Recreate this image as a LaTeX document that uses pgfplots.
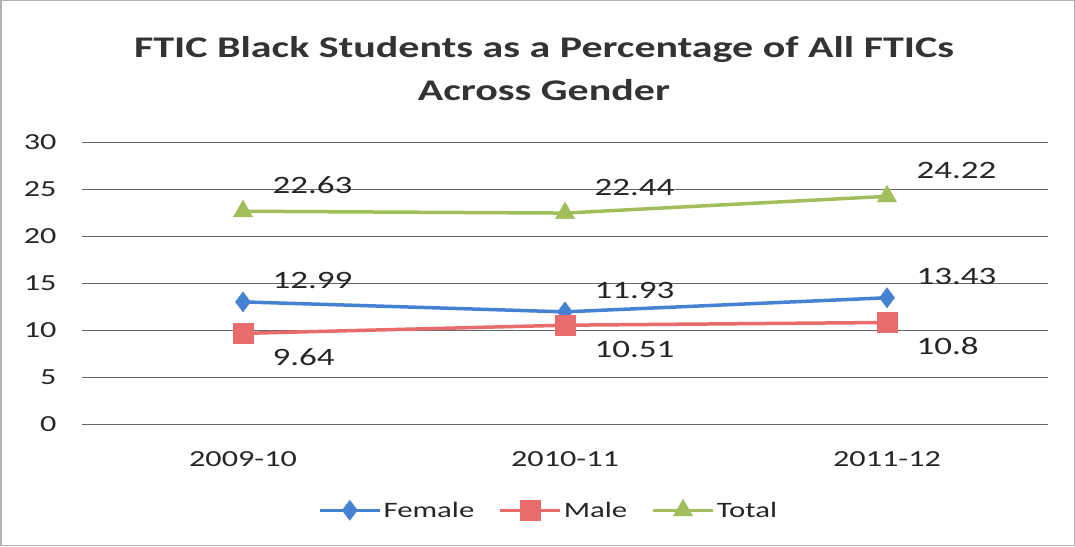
\documentclass[border=0pt]{standalone}
\usepackage{pgfplots}
\pgfplotsset{compat=1.18}
\usepackage{fontspec}
\setmainfont{Carlito}[FakeStretch=1.4]
\definecolor{cF}{RGB}{70,130,210}
\definecolor{cM}{RGB}{232,108,108}
\definecolor{cT}{RGB}{160,190,90}
\begin{document}
\begin{tikzpicture}
\draw[gray!60, line width=1.5pt] (0.75pt,0.75pt) rectangle (1074.25pt,545.25pt);
\node[align=center, font=\fontsize{30}{43}\selectfont\bfseries, text=black!80] at (544pt,477pt) {FTIC Black Students as a Percentage of All FTICs\\Across Gender};
\begin{axis}[at={(82pt,122pt)}, anchor=south west, scale only axis,
  width=966pt, height=282pt,
  xmin=-0.5, xmax=2.5, ymin=0, ymax=30,
  ytick={0,5,...,30}, xtick={0,1,2}, xticklabels={2009-10,2010-11,2011-12},
  axis line style={draw=none}, tick style={draw=none},
  ymajorgrids, grid style={black!60, line width=0.8pt},
  ticklabel style={font=\fontsize{23}{26}\selectfont, text=black!85},
  /pgf/number format/assume math mode=true,
  yticklabel shift=22pt,
  xticklabel shift=24pt,
  nodes near coords,
  /pgf/number format/.cd, fixed, precision=2, /pgfplots/.cd,
  nodes near coords style={font=\fontsize{25}{28}\selectfont, text=black!85, anchor=west, xshift=26pt},
  legend columns=3,
  legend style={at={(0.483,-0.305)}, anchor=center, draw=none, fill=none, font=\fontsize{22}{26}\selectfont, text=black!85, /tikz/every even column/.append style={column sep=22pt}},
  legend image code/.code={\draw[mark repeat=2,mark phase=2] plot coordinates {(0pt,0pt)(30pt,0pt)(60pt,0pt)};},
  every axis plot/.append style={line width=3.5pt},
]
\addplot[color=cF, mark=diamond*, mark size=10pt, mark options={line width=0.5pt}, every node near coord/.append style={yshift=21pt}] coordinates {(0,12.99)(1,11.93)(2,13.43)};
\addlegendentry{Female}
\addplot[color=cM, mark=square*, mark size=10pt, mark options={line width=0.5pt}, every node near coord/.append style={yshift=-24pt}] coordinates {(0,9.64)(1,10.51)(2,10.8)};
\addlegendentry{Male}
\addplot[color=cT, mark=triangle*, mark size=11pt, mark options={line width=0.5pt}, every node near coord/.append style={yshift=26pt}] coordinates {(0,22.63)(1,22.44)(2,24.22)};
\addlegendentry{Total}
\end{axis}
\end{tikzpicture}
\end{document}
